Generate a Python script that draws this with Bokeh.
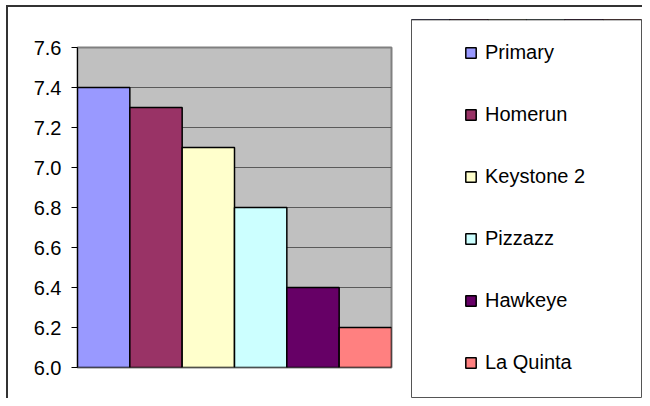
from bokeh.plotting import figure
from bokeh.layouts import row, column
from bokeh.models import (ColumnDataSource, FactorRange, Range1d, FixedTicker,
                          PrintfTickFormatter)
from bokeh.embed import file_html
from bokeh.resources import INLINE

# ---- data ----
varieties = ["Primary", "Homerun", "Keystone 2", "Pizzazz", "Hawkeye", "La Quinta"]
values = [7.4, 7.3, 7.1, 6.8, 6.4, 6.2]
colors = ["#9999FF", "#993366", "#FFFFCC", "#CCFFFF", "#660066", "#FF8080"]
y_ticks = [6.0, 6.2, 6.4, 6.6, 6.8, 7.0, 7.2, 7.4, 7.6]
y_min, y_max = 6.0, 7.6

FONT = "Liberation Sans"

src = ColumnDataSource(dict(name=varieties, value=values, color=colors,
                            base=[y_min] * len(values)))

# ---- chart ----
p = figure(width=401, height=391, output_backend="svg", toolbar_location=None,
           x_range=FactorRange(*varieties), y_range=Range1d(y_min, y_max),
           min_border_left=69, min_border_right=18, min_border_top=40,
           min_border_bottom=31)
p.background_fill_color = "#C0C0C0"
p.border_fill_color = "white"
p.outline_line_color = "#808080"
p.outline_line_width = 2

p.vbar(x="name", top="value", bottom="base", width=1.0, source=src,
       fill_color="color", line_color="black", line_width=1.5)

p.xaxis.visible = False
p.xgrid.visible = False
p.ygrid.grid_line_color = "#5a5a5a"
p.ygrid.grid_line_width = 1
p.ygrid.ticker = FixedTicker(ticks=y_ticks)

ya = p.yaxis[0]
ya.ticker = FixedTicker(ticks=y_ticks)
ya.formatter = PrintfTickFormatter(format="%.1f")
ya.axis_line_color = "black"
ya.axis_line_width = 1
ya.major_tick_line_color = "black"
ya.major_tick_out = 6
ya.major_tick_in = 0
ya.minor_tick_out = 0
ya.minor_tick_in = 0
ya.major_label_standoff = 10
ya.major_label_text_font = FONT
ya.major_label_text_font_size = "20px"
ya.major_label_text_color = "black"

# ---- legend panel (its frame is the legend box) ----
q = figure(width=233, height=391, output_backend="svg", toolbar_location=None,
           x_range=FactorRange(*varieties), y_range=Range1d(0, 1),
           min_border_left=2, min_border_right=1, min_border_top=12,
           min_border_bottom=1)
q.background_fill_color = "white"
q.border_fill_color = "white"
q.outline_line_color = "#555555"
q.outline_line_width = 1
q.axis.visible = False
q.grid.visible = False
# same bars, outside this panel's range: only their legend entries show
q.vbar(x="name", top="value", bottom="base", width=1.0, source=src,
       fill_color="color", line_color="black", line_width=1.5,
       legend_field="name")

leg = q.legend[0]
leg.location = (53, 23)
leg.padding = 0
leg.margin = 0
leg.spacing = 38
leg.label_height = 24
leg.glyph_height = 13
leg.glyph_width = 13
leg.label_standoff = 8
leg.label_text_font = FONT
leg.label_text_font_size = "20px"
leg.label_text_color = "black"
leg.border_line_alpha = 0
leg.background_fill_alpha = 0

inner = row(column(p), column(q), spacing=0,
            styles={"border-top": "2px solid #333333",
                    "border-left": "2px solid #333333"})
layout = column(inner, styles={"padding-left": "6px", "padding-top": "5px"})

open("out.html", "w").write(file_html(layout, INLINE))
